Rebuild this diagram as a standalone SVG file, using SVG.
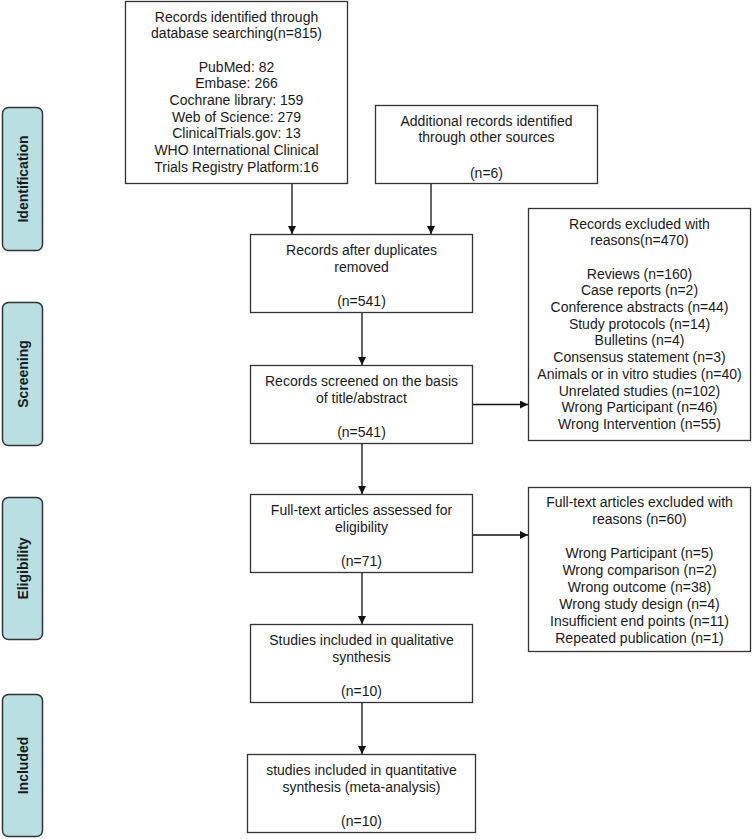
<svg xmlns="http://www.w3.org/2000/svg" width="753" height="839" viewBox="0 0 753 839">
<style>
.bx{fill:#fff;stroke:#333;stroke-width:1.3}
.st{fill:#badfe3;stroke:#333;stroke-width:1.5}
.t{font-family:"Liberation Sans",Arial,sans-serif;font-size:14px;fill:#1a1a1a;text-anchor:middle}
.sl{font-family:"Liberation Sans",Arial,sans-serif;font-size:14px;font-weight:bold;fill:#1a1a1a;text-anchor:middle}
.c{stroke:#111;stroke-width:1.3;fill:none;marker-end:url(#ah)}
</style>
<defs>
<marker id="ah" viewBox="0 0 10 10" refX="10" refY="5" markerWidth="8" markerHeight="8" markerUnits="userSpaceOnUse" orient="auto">
<path d="M0,0 L10,5 L0,10 z" fill="#111"/>
</marker>
</defs>
<rect width="753" height="839" fill="#fff"/>

<g id="stage-identification">
<rect class="st" x="2.5" y="107.5" width="40" height="143" rx="6"/>
<text class="sl" transform="translate(27.5,179) rotate(-90)">Identification</text>
</g>
<g id="stage-screening">
<rect class="st" x="2.5" y="302.5" width="40" height="143" rx="6"/>
<text class="sl" transform="translate(27.5,374) rotate(-90)">Screening</text>
</g>
<g id="stage-eligibility">
<rect class="st" x="2.5" y="497.5" width="40" height="142" rx="6"/>
<text class="sl" transform="translate(27.5,568.5) rotate(-90)">Eligibility</text>
</g>
<g id="stage-included">
<rect class="st" x="2.5" y="694.5" width="40" height="142" rx="6"/>
<text class="sl" transform="translate(27.5,765.5) rotate(-90)">Included</text>
</g>

<g id="database">
<rect class="bx" x="125.5" y="1.5" width="222" height="182"/>
<text class="t" x="236.5" y="21.5">Records identified through</text>
<text class="t" x="236.5" y="38.2">database searching(n=815)</text>
<text class="t" x="236.5" y="71.6">PubMed: 82</text>
<text class="t" x="236.5" y="88.3">Embase: 266</text>
<text class="t" x="236.5" y="105">Cochrane library: 159</text>
<text class="t" x="236.5" y="121.7">Web of Science: 279</text>
<text class="t" x="236.5" y="138.4">ClinicalTrials.gov: 13</text>
<text class="t" x="236.5" y="155.1">WHO International Clinical</text>
<text class="t" x="236.5" y="171.8">Trials Registry Platform:16</text>
</g>

<g id="other-sources">
<rect class="bx" x="375.5" y="105.5" width="222" height="78"/>
<text class="t" x="486.5" y="125.5">Additional records identified</text>
<text class="t" x="486.5" y="142.2">through other sources</text>
<text class="t" x="486.5" y="178">(n=6)</text>
</g>

<g id="after-duplicates">
<rect class="bx" x="250.5" y="234.5" width="222" height="78"/>
<text class="t" x="361.5" y="254.5">Records after duplicates</text>
<text class="t" x="361.5" y="271.5">removed</text>
<text class="t" x="361.5" y="305.5">(n=541)</text>
</g>

<g id="screened">
<rect class="bx" x="250.5" y="365.5" width="222" height="78"/>
<text class="t" x="361.5" y="385.5">Records screened on the basis</text>
<text class="t" x="361.5" y="402.5">of title/abstract</text>
<text class="t" x="361.5" y="436.5">(n=541)</text>
</g>

<g id="records-excluded">
<rect class="bx" x="528.5" y="208.5" width="222" height="232"/>
<text class="t" x="639.5" y="228.5">Records excluded with</text>
<text class="t" x="639.5" y="245.2">reasons(n=470)</text>
<text class="t" x="639.5" y="278.6">Reviews (n=160)</text>
<text class="t" x="639.5" y="295.3">Case reports (n=2)</text>
<text class="t" x="639.5" y="312">Conference abstracts (n=44)</text>
<text class="t" x="639.5" y="328.7">Study protocols (n=14)</text>
<text class="t" x="639.5" y="345.4">Bulletins (n=4)</text>
<text class="t" x="639.5" y="362.1">Consensus statement (n=3)</text>
<text class="t" x="639.5" y="378.8">Animals or in vitro studies (n=40)</text>
<text class="t" x="639.5" y="395.5">Unrelated studies (n=102)</text>
<text class="t" x="639.5" y="412.2">Wrong Participant (n=46)</text>
<text class="t" x="639.5" y="428.9">Wrong Intervention (n=55)</text>
</g>

<g id="full-text">
<rect class="bx" x="250.5" y="494.5" width="222" height="78"/>
<text class="t" x="361.5" y="514.5">Full-text articles assessed for</text>
<text class="t" x="361.5" y="531.5">eligibility</text>
<text class="t" x="361.5" y="565.5">(n=71)</text>
</g>

<g id="full-text-excluded">
<rect class="bx" x="528.5" y="487.5" width="222" height="164"/>
<text class="t" x="639.5" y="506.5">Full-text articles excluded with</text>
<text class="t" x="639.5" y="523.5">reasons (n=60)</text>
<text class="t" x="639.5" y="557.5">Wrong Participant (n=5)</text>
<text class="t" x="639.5" y="574.5">Wrong comparison (n=2)</text>
<text class="t" x="639.5" y="591.5">Wrong outcome (n=38)</text>
<text class="t" x="639.5" y="608.5">Wrong study design (n=4)</text>
<text class="t" x="639.5" y="625.5">Insufficient end points (n=11)</text>
<text class="t" x="639.5" y="642.5">Repeated publication (n=1)</text>
</g>

<g id="qualitative">
<rect class="bx" x="250.5" y="624.5" width="222" height="78"/>
<text class="t" x="361.5" y="644.5">Studies included in qualitative</text>
<text class="t" x="361.5" y="661.5">synthesis</text>
<text class="t" x="361.5" y="695.5">(n=10)</text>
</g>

<g id="quantitative">
<rect class="bx" x="247.5" y="754.5" width="228" height="78"/>
<text class="t" x="361.5" y="774.5">studies included in quantitative</text>
<text class="t" x="361.5" y="791.5">synthesis (meta-analysis)</text>
<text class="t" x="361.5" y="825.5">(n=10)</text>
</g>

<g id="connectors">
<line class="c" x1="292" y1="184" x2="292" y2="234"/>
<line class="c" x1="431" y1="184" x2="431" y2="234"/>
<line class="c" x1="362" y1="313" x2="362" y2="365"/>
<line class="c" x1="473" y1="404.5" x2="528" y2="404.5"/>
<line class="c" x1="362" y1="444" x2="362" y2="494"/>
<line class="c" x1="473" y1="535" x2="528" y2="535"/>
<line class="c" x1="362" y1="573" x2="362" y2="624"/>
<line class="c" x1="362" y1="703" x2="362" y2="754"/>
</g>
</svg>
